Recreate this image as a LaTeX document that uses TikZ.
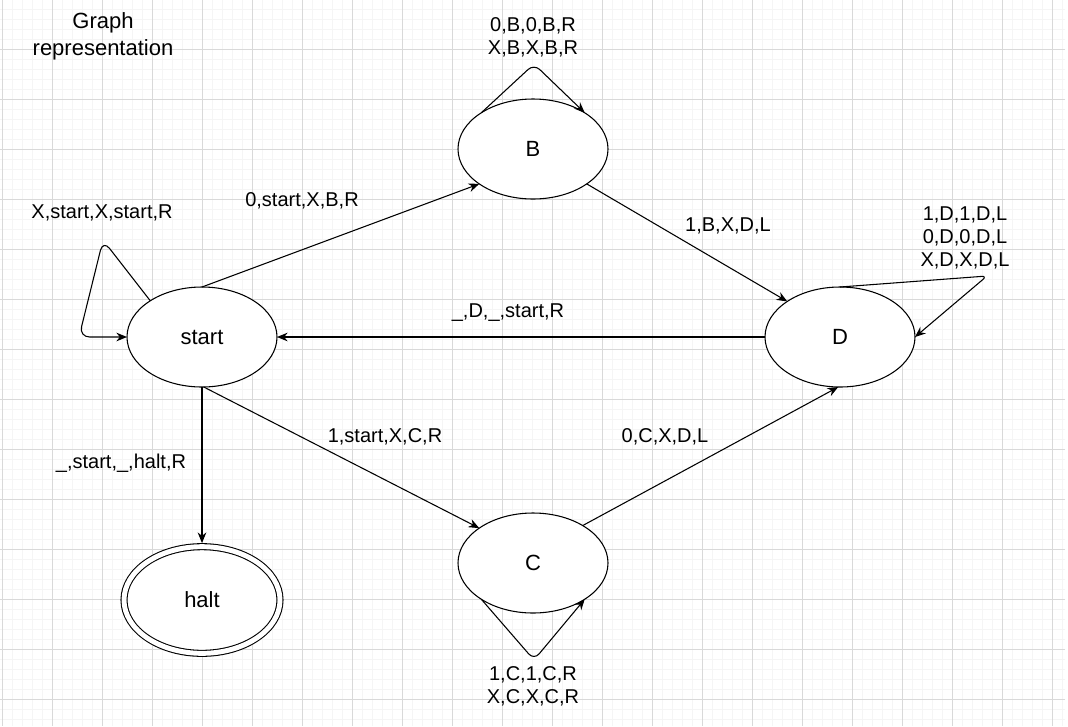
\documentclass[tikz,border=0pt]{standalone}
\usepackage{fontspec}
\setmainfont{Liberation Sans}
\usetikzlibrary{shapes.geometric,arrows.meta}

\begin{document}
\begin{tikzpicture}[x=0.75pt, y=-0.75pt, thick, >={Stealth[length=8pt,width=6.5pt]},
    main/.style = {draw, ellipse, minimum width=112.5pt, minimum height=75pt, inner sep=0pt, outer sep=0pt, font=\fontsize{16.5}{19}\selectfont},
    lbl/.style = {draw=none, align=center, inner sep=0pt, font=\fontsize{15}{17.5}\selectfont},
    gridminor/.style = {line width=0.6pt, draw=black!4},
    gridmajor/.style = {line width=0.6pt, draw=black!15}]
        \useasboundingbox[fill=white] (0,0) rectangle (1068,726);
        \foreach \x in {2,12,...,1062} \draw[gridminor] (\x,0) -- (\x,726);
        \foreach \y in {9,19,...,719} \draw[gridminor] (0,\y) -- (1065,\y);
        \foreach \x in {2,52,...,1052} \draw[gridmajor] (\x,0) -- (\x,726);
        \foreach \y in {49,99,...,699} \draw[gridmajor] (0,\y) -- (1065,\y);

        \node[lbl, font=\fontsize{16.5}{20.25}\selectfont] (t) at (103,36.5) {Graph\\representation};

        \node[main, fill=white] (1) at (202,337) {start};
        \node[main, fill=white] (2) at (533,149) {B};
        \node[main, fill=white] (3) at (840,337) {D};
        \node[main, fill=white] (4) at (533,563) {C};
        \node[main, fill=white, double, double distance=3.7pt, minimum width=117pt, minimum height=80pt, outer sep=2.7pt] (5) at (202,600) {halt};

        \node[lbl] (l12) at (302,201) {0,start,X,B,R};
        \node[lbl] (l23) at (728,226) {1,B,X,D,L};
        \node[lbl] (l31) at (508,313) {\_,D,\_,start,R};
        \node[lbl] (l14) at (385,437) {1,start,X,C,R};
        \node[lbl] (l43) at (665,437) {0,C,X,D,L};
        \node[lbl] (l15) at (121,463) {\_,start,\_,halt,R};
        \node[lbl] (l11) at (102,213) {X,start,X,start,R};
        \node[lbl] (l22) at (533,37.5) {0,B,0,B,R\\X,B,X,B,R};
        \node[lbl] (l33) at (965,238) {1,D,1,D,L\\0,D,0,D,L\\X,D,X,D,L};
        \node[lbl] (l44) at (533,686) {1,C,1,C,R\\X,C,X,C,R};

        \draw[->] (1.north) -- (2.213);
        \draw[->] (2.327) -- (3.146);
        \draw[->] (3.west) -- (1.east);
        \draw[->] (1.272) -- (4.147);
        \draw[->] (4.37) -- (3.268);
        \draw[->] (1.south) -- (5.north);
        \draw[->, rounded corners=8pt] (1.145) -- (103,240) -- (79,337) -- (1.west);
        \draw[->, rounded corners=6pt] (2.145) -- (534,64) -- (2.35);
        \draw[->, rounded corners=6pt] (4.215) -- (534,660) -- (4.325);
        \draw[->, rounded corners=4pt] (3.north) -- (987,276) -- (3.east);
    \end{tikzpicture}
\end{document}
